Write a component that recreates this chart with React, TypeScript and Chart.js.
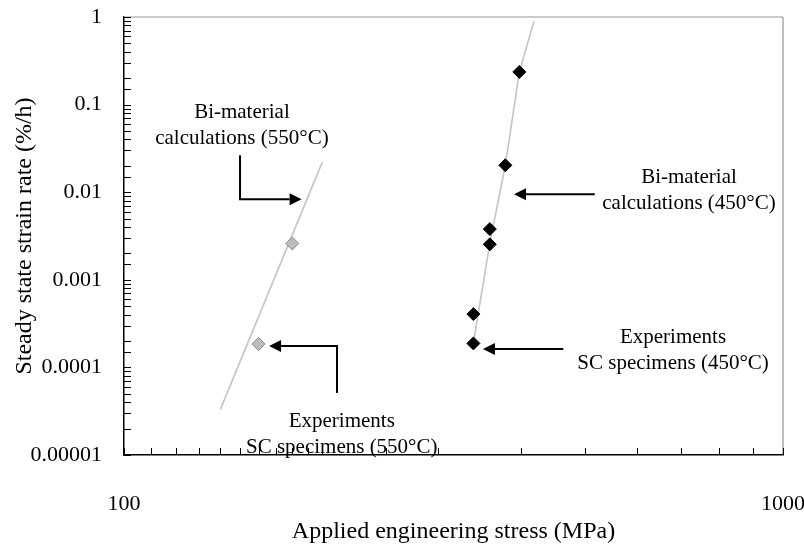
import React, { useEffect, useRef } from 'react';
import { Chart, registerables } from 'chart.js';

Chart.register(...registerables);

// ---- data ----
const xTickLabels = ['100', '1000'];
const yTickLabels = ['0.00001', '0.0001', '0.001', '0.01', '0.1', '1'];

const calc550Stress = [140, 200];
const calc550Rate = [3.3e-5, 0.0222];

const calc450Stress = [339, 359, 379, 398, 419];
const calc450Rate = [1.9e-4, 2.6e-3, 0.0203, 0.236, 0.9];

const exp550Stress = [160, 180];
const exp550Rate = [1.85e-4, 2.6e-3];

const exp450Stress = [339, 339, 359, 359, 379, 398];
const exp450Rate = [1.88e-4, 4.06e-4, 2.54e-3, 3.79e-3, 0.0203, 0.236];

// annotation texts (anchored in data coordinates: centre of first line)
const annoTexts = [
  { lines: ['Bi-material', 'calculations (550°C)'], x: 151, y: 0.0818 },
  { lines: ['Experiments', 'SC specimens (550°C)'], x: 214, y: 2.44e-5 },
  { lines: ['Bi-material', 'calculations (450°C)'], x: 720, y: 0.01483 },
  { lines: ['Experiments', 'SC specimens (450°C)'], x: 681, y: 2.22e-4 },
];

// arrows (polyline in data coordinates, last point is the tip)
const annoArrows = [
  [[150, 0.0264], [150, 0.0083], [186, 0.0083]],
  [[210.5, 5.1e-5], [210.5, 1.75e-4], [166, 1.75e-4]],
  [[518, 0.0095], [390.7, 0.0095]],
  [[464, 1.62e-4], [350.5, 1.62e-4]],
];

const FONT = '"Liberation Serif", "Times New Roman", serif';

function toPoints(xs: number[], ys: number[]) {
  return xs.map((x, i) => ({ x, y: ys[i] }));
}

function decadeIndex(v: number, min: number) {
  const l = Math.log10(v);
  if (Math.abs(l - Math.round(l)) > 1e-6) return -1;
  return Math.round(l) - Math.round(Math.log10(min));
}

const decorPlugin = {
  id: 'decor',
  beforeDatasetsDraw(chart: any) {
    const { ctx, chartArea } = chart;
    const { left, right, top, bottom } = chartArea;
    ctx.save();
    ctx.lineWidth = 1.5;
    ctx.strokeStyle = '#b8b8b8';
    ctx.beginPath();
    ctx.moveTo(left, top);
    ctx.lineTo(right, top);
    ctx.stroke();
    ctx.lineWidth = 1;
    ctx.strokeStyle = '#808080';
    ctx.beginPath();
    ctx.moveTo(right, top);
    ctx.lineTo(right, bottom);
    ctx.stroke();
    ctx.restore();
  },
  afterDraw(chart: any) {
    const { ctx, chartArea } = chart;
    const xs = chart.scales.x;
    const ys = chart.scales.y;
    ctx.save();
    // inward ticks
    ctx.strokeStyle = '#000';
    ctx.lineWidth = 1;
    const tl = 7;
    xs.ticks.forEach((t: any) => {
      const px = Math.round(xs.getPixelForValue(t.value)) + 0.5;
      ctx.beginPath();
      ctx.moveTo(px, chartArea.bottom);
      ctx.lineTo(px, chartArea.bottom - tl);
      ctx.stroke();
    });
    ys.ticks.forEach((t: any) => {
      const py = Math.round(ys.getPixelForValue(t.value)) + 0.5;
      ctx.beginPath();
      ctx.moveTo(chartArea.left, py);
      ctx.lineTo(chartArea.left + tl, py);
      ctx.stroke();
    });

    // arrows
    ctx.strokeStyle = '#000';
    ctx.fillStyle = '#000';
    ctx.lineWidth = 2;
    const head = 12;
    const half = 6;
    annoArrows.forEach((pts) => {
      const p = pts.map(([x, y]) => [xs.getPixelForValue(x), ys.getPixelForValue(y)]);
      const n = p.length;
      const [tx, ty] = p[n - 1];
      const [sx, sy] = p[n - 2];
      const d = Math.hypot(tx - sx, ty - sy);
      const ux = (tx - sx) / d;
      const uy = (ty - sy) / d;
      const bx = tx - ux * head;
      const by = ty - uy * head;
      ctx.beginPath();
      ctx.moveTo(p[0][0], p[0][1]);
      for (let i = 1; i < n - 1; i++) ctx.lineTo(p[i][0], p[i][1]);
      ctx.lineTo(bx, by);
      ctx.stroke();
      ctx.beginPath();
      ctx.moveTo(tx, ty);
      ctx.lineTo(bx - uy * half, by + ux * half);
      ctx.lineTo(bx + uy * half, by - ux * half);
      ctx.closePath();
      ctx.fill();
    });

    // texts
    ctx.font = `21px ${FONT}`;
    ctx.textAlign = 'center';
    ctx.textBaseline = 'middle';
    ctx.fillStyle = '#000';
    annoTexts.forEach((a) => {
      const px = xs.getPixelForValue(a.x);
      const py = ys.getPixelForValue(a.y);
      a.lines.forEach((line, i) => ctx.fillText(line, px, py + i * 26));
    });
    ctx.restore();
  },
};

export default function App() {
  const ref = useRef<HTMLCanvasElement | null>(null);
  useEffect(() => {
    if (!ref.current) return;
    const chart = new Chart(ref.current, {
      type: 'scatter',
      data: {
        datasets: [
          {
            label: 'Experiments 450',
            data: toPoints(exp450Stress, exp450Rate),
            pointStyle: 'rectRot',
            pointRadius: 6.5,
            backgroundColor: '#000',
            borderColor: '#000',
            borderWidth: 1,
            showLine: false,
            order: 1,
          },
          {
            label: 'Experiments 550',
            data: toPoints(exp550Stress, exp550Rate),
            pointStyle: 'rectRot',
            pointRadius: 6.5,
            backgroundColor: '#bdbdbd',
            borderColor: '#8a8a8a',
            borderWidth: 1,
            showLine: false,
            order: 2,
          },
          {
            label: 'Calc 550',
            data: toPoints(calc550Stress, calc550Rate),
            showLine: true,
            borderColor: '#c4c4c4',
            borderWidth: 1.6,
            pointRadius: 0,
            order: 3,
          },
          {
            label: 'Calc 450',
            data: toPoints(calc450Stress, calc450Rate),
            showLine: true,
            borderColor: '#c4c4c4',
            borderWidth: 1.6,
            pointRadius: 0,
            order: 4,
          },
        ],
      },
      options: {
        animation: false,
        responsive: false,
        devicePixelRatio: 1,
        layout: { padding: 0 },
        plugins: {
          legend: { display: false },
          tooltip: { enabled: false },
        },
        scales: {
          x: {
            type: 'logarithmic',
            position: 'bottom',
            min: 100,
            max: 1000,
            grid: { display: false, drawTicks: false },
            border: { display: true, color: '#000', width: 1.5 },
            ticks: {
              autoSkip: false,
              maxRotation: 0,
              padding: 36,
              color: '#000',
              font: { family: FONT, size: 22 },
              callback: (v: any) => {
                const i = decadeIndex(Number(v), 100);
                return i >= 0 && i < xTickLabels.length ? xTickLabels[i] : '';
              },
            },
            title: {
              display: true,
              text: 'Applied engineering stress (MPa)',
              color: '#000',
              font: { family: FONT, size: 24 },
              padding: { top: 0, bottom: 0 },
            },
            afterFit: (s: any) => {
              s.height = 91;
              s.paddingLeft = 0;
              s.paddingRight = 21;
              s.paddingTop = 0;
              s.paddingBottom = 0;
            },
          },
          y: {
            type: 'logarithmic',
            position: 'left',
            min: 0.00001,
            max: 1,
            grid: { display: false, drawTicks: false },
            border: { display: true, color: '#000', width: 1.5 },
            ticks: {
              autoSkip: false,
              padding: 22,
              color: '#000',
              font: { family: FONT, size: 22 },
              callback: (v: any) => {
                const i = decadeIndex(Number(v), 0.00001);
                return i >= 0 && i < yTickLabels.length ? yTickLabels[i] : '';
              },
            },
            title: {
              display: true,
              text: 'Steady state strain rate (%/h)',
              color: '#000',
              font: { family: FONT, size: 24 },
              padding: { top: 10, bottom: 0 },
            },
            afterFit: (s: any) => {
              s.width = 124;
              s.paddingLeft = 0;
              s.paddingRight = 0;
              s.paddingTop = 17;
              s.paddingBottom = 0;
            },
          },
        },
      },
      plugins: [decorPlugin],
    } as any);
    return () => chart.destroy();
  }, []);
  return (
    <div style={{ position: 'absolute', left: 0, top: 0, width: 804, height: 546, background: '#fff' }}>
      <canvas ref={ref} width={804} height={546} />
    </div>
  );
}
